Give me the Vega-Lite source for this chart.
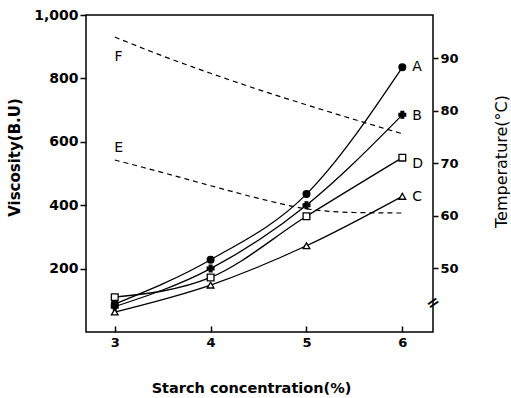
{
  "$schema": "https://vega.github.io/schema/vega-lite/v6.json",
  "width": 347,
  "height": 317,
  "autosize": "none",
  "padding": {"left": 86, "top": 15, "right": 78, "bottom": 66},
  "background": "white",
  "config": {
    "view": {"stroke": "black", "strokeWidth": 1.5},
    "axis": {
      "grid": false, "domain": false, "tickColor": "black", "tickWidth": 1.5,
      "labelColor": "black", "titleColor": "black",
      "labelFont": "DejaVu Sans", "labelFontWeight": "bold", "labelFontSize": 13,
      "titleFont": "DejaVu Sans", "titleFontWeight": "bold", "titleFontSize": 14.5
    }
  },
  "datasets": {
    "visc": [
      {"series": "A", "conc": 3, "visc": 88}, {"series": "A", "conc": 4, "visc": 228}, {"series": "A", "conc": 5, "visc": 435}, {"series": "A", "conc": 6, "visc": 835},
      {"series": "B", "conc": 3, "visc": 80}, {"series": "B", "conc": 4, "visc": 200}, {"series": "B", "conc": 5, "visc": 400}, {"series": "B", "conc": 6, "visc": 685},
      {"series": "C", "conc": 3, "visc": 63}, {"series": "C", "conc": 4, "visc": 148}, {"series": "C", "conc": 5, "visc": 272}, {"series": "C", "conc": 6, "visc": 428},
      {"series": "D", "conc": 3, "visc": 110}, {"series": "D", "conc": 4, "visc": 172}, {"series": "D", "conc": 5, "visc": 365}, {"series": "D", "conc": 6, "visc": 550}
    ],
    "vlabels": [
      {"label": "A", "conc": 6, "visc": 835},
      {"label": "B", "conc": 6, "visc": 681},
      {"label": "D", "conc": 6, "visc": 530},
      {"label": "C", "conc": 6, "visc": 426}
    ],
    "temp": [
      {"series": "F", "conc": 3, "temp": 94.0}, {"series": "F", "conc": 3.5, "temp": 90.4}, {"series": "F", "conc": 4, "temp": 87.1}, {"series": "F", "conc": 4.5, "temp": 84.0}, {"series": "F", "conc": 5, "temp": 81.1}, {"series": "F", "conc": 5.5, "temp": 78.3}, {"series": "F", "conc": 6, "temp": 75.6},
      {"series": "E", "conc": 3, "temp": 70.6}, {"series": "E", "conc": 3.5, "temp": 68.2}, {"series": "E", "conc": 4, "temp": 65.7}, {"series": "E", "conc": 4.5, "temp": 63.3}, {"series": "E", "conc": 5, "temp": 61.3}, {"series": "E", "conc": 5.5, "temp": 60.6}, {"series": "E", "conc": 6, "temp": 60.5}
    ],
    "tlabels": [
      {"label": "F", "conc": 3.04, "temp": 90.2},
      {"label": "E", "conc": 3.04, "temp": 72.9}
    ],
    "axisbreak": [
      {"label": "=", "conc": 6.32, "temp": 43.4}
    ]
  },
  "encoding": {
    "x": {
      "field": "conc", "type": "quantitative",
      "scale": {"domain": [2.7, 6.32], "nice": false, "zero": false},
      "axis": {"values": [3, 4, 5, 6], "title": "Starch concentration(%)", "tickSize": -6, "labelPadding": 10, "titleX": 165, "titleY": 49}
    }
  },
  "layer": [
    {
      "data": {"name": "visc"},
      "encoding": {
        "y": {
          "field": "visc", "type": "quantitative",
          "scale": {"domain": [0, 1000], "nice": false},
          "axis": {"orient": "left", "values": [200, 400, 600, 800, 1000], "format": ",.0f", "title": "Viscosity(B.U)", "labelFontSize": 14, "titleFontSize": 15, "tickSize": 6, "labelPadding": 2, "titleX": -64, "titleY": 142, "titleAngle": -90}
        }
      },
      "layer": [
        {"mark": {"type": "line", "interpolate": "monotone", "color": "black", "strokeWidth": 1.3}, "encoding": {"detail": {"field": "series"}}},
        {
          "mark": {"type": "point", "filled": true, "opacity": 1, "strokeWidth": 1.3, "size": 45},
          "encoding": {
            "shape": {"field": "series", "scale": {"domain": ["A", "B", "C", "D"], "range": ["circle", "cross", "triangle-up", "square"]}, "legend": null},
            "fill": {"field": "series", "scale": {"domain": ["A", "B", "C", "D"], "range": ["black", "black", "white", "white"]}, "legend": null},
            "stroke": {"value": "black"}
          }
        },
        {
          "data": {"name": "vlabels"},
          "mark": {"type": "text", "align": "left", "dx": 10, "fontSize": 14, "font": "DejaVu Sans", "color": "black"},
          "encoding": {"text": {"field": "label"}}
        }
      ]
    },
    {
      "data": {"name": "temp"},
      "encoding": {
        "y": {
          "field": "temp", "type": "quantitative",
          "scale": {"domain": [37.85, 98.2], "nice": false, "zero": false},
          "axis": {"orient": "right", "values": [50, 60, 70, 80, 90], "title": "Temperature(°C)", "titleFontWeight": "normal", "titleFontSize": 16, "tickSize": 5, "labelPadding": 2, "titleX": 76, "titleY": 146, "titleAngle": -90}
        }
      },
      "layer": [
        {"mark": {"type": "line", "interpolate": "monotone", "color": "black", "strokeDash": [5, 4], "strokeWidth": 1.2}, "encoding": {"detail": {"field": "series"}}},
        {
          "data": {"name": "tlabels"},
          "mark": {"type": "text", "fontSize": 14, "font": "DejaVu Sans", "color": "black"},
          "encoding": {"text": {"field": "label"}}
        },
        {
          "data": {"name": "axisbreak"},
          "mark": {"type": "text", "fontSize": 16, "font": "DejaVu Sans", "fontWeight": "bold", "angle": -35, "color": "black"},
          "encoding": {"text": {"field": "label"}}
        }
      ]
    }
  ],
  "resolve": {"scale": {"y": "independent"}}
}
